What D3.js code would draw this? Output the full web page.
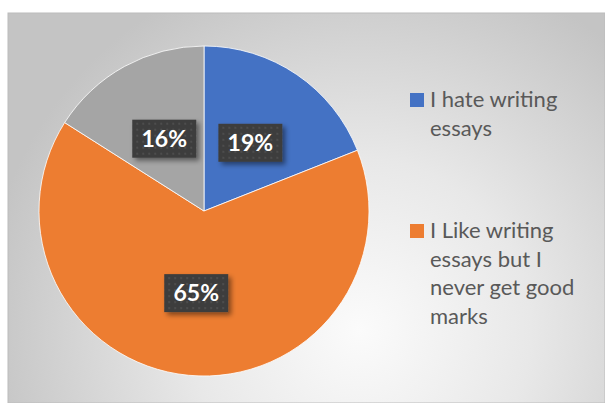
<!DOCTYPE html>
<html>
<head>
<meta charset="utf-8">
<script src="https://cdn.jsdelivr.net/npm/d3@7/dist/d3.min.js"></script>
<style>
  html, body { margin: 0; padding: 0; background: #ffffff; }
  svg { display: block; }
</style>
</head>
<body>
<svg id="chart" width="605" height="403"></svg>
<script>
// Survey answers, shares in percent
const categories = [
  "I hate writing essays",
  "I Like writing essays but I never get good marks",
  "Other"
];
const values = [19, 65, 16];
const colors = ["#4472c4", "#ed7d31", "#a5a5a5"];
// Legend shows the first two answers, wrapped as in the chart
const legendLines = [
  ["I hate writing", "essays"],
  ["I Like writing", "essays but I", "never get good", "marks"]
];

const svg = d3.select("#chart");
const W = 605, H = 403;
const frame = { x: 8, y: 13, w: W - 8, h: H - 13 };

const defs = svg.append("defs");

// soft radial backdrop of the chart area
const bg = defs.append("radialGradient")
  .attr("id", "bgGrad")
  .attr("gradientUnits", "userSpaceOnUse")
  .attr("cx", 360).attr("cy", 330).attr("r", 380);
bg.append("stop").attr("offset", "0%").attr("stop-color", "#fbfbfb");
bg.append("stop").attr("offset", "45%").attr("stop-color", "#e8e8e8");
bg.append("stop").attr("offset", "100%").attr("stop-color", "#c4c4c4");

// dotted dark fill for the value labels
const pat = defs.append("pattern")
  .attr("id", "dots")
  .attr("width", 6).attr("height", 6)
  .attr("patternUnits", "userSpaceOnUse");
pat.append("rect").attr("width", 6).attr("height", 6).attr("fill", "#3d3d3d");
pat.append("circle").attr("cx", 3).attr("cy", 3).attr("r", 1).attr("fill", "#525252");

const shadow = defs.append("filter")
  .attr("id", "shadow")
  .attr("x", "-20%").attr("y", "-20%").attr("width", "150%").attr("height", "160%");
shadow.append("feDropShadow")
  .attr("dx", 3).attr("dy", 3).attr("stdDeviation", 2.5)
  .attr("flood-color", "#000").attr("flood-opacity", 0.45);

svg.append("rect")
  .attr("x", frame.x).attr("y", frame.y)
  .attr("width", frame.w).attr("height", frame.h)
  .attr("fill", "url(#bgGrad)")
  .attr("stroke", "#bcbcbc").attr("stroke-width", 1);

// pie
const cx = 204, cy = 211, R = 165;
const pie = d3.pie().sort(null).value(d => d)(values);
const arc = d3.arc().innerRadius(0).outerRadius(R);
const labelArc = d3.arc().innerRadius(R * 0.5).outerRadius(R * 0.5);

const g = svg.append("g").attr("transform", `translate(${cx},${cy})`);

g.selectAll("path.slice")
  .data(pie)
  .join("path")
  .attr("class", "slice")
  .attr("d", arc)
  .attr("fill", (d, i) => colors[i])
  .attr("stroke", "#ffffff")
  .attr("stroke-width", 0.8);

// value labels on dark boxes
const labels = g.selectAll("g.lbl")
  .data(pie)
  .join("g")
  .attr("class", "lbl")
  .attr("transform", d => {
    const [x, y] = labelArc.centroid(d);
    return `translate(${x},${y})`;
  });

const bw = 64, bh = 38;
labels.append("rect")
  .attr("x", -bw / 2).attr("y", -bh / 2)
  .attr("width", bw).attr("height", bh)
  .attr("fill", "url(#dots)")
  .attr("filter", "url(#shadow)");

labels.append("text")
  .attr("text-anchor", "middle")
  .attr("dy", "0.36em")
  .attr("fill", "#ffffff")
  .attr("font-family", "Lato, 'Open Sans', sans-serif")
  .attr("font-weight", "bold")
  .attr("font-size", 23)
  .text(d => d.data + "%");

// legend
const legend = svg.append("g").attr("class", "legend");
const entryTop = [107, 238];
const lineH = 28.5;
legendLines.forEach((lines, i) => {
  const ent = legend.append("g");
  ent.append("rect")
    .attr("x", 410).attr("y", entryTop[i] - 14)
    .attr("width", 14).attr("height", 14)
    .attr("fill", colors[i]);
  ent.selectAll("text")
    .data(lines)
    .join("text")
    .attr("x", 430)
    .attr("y", (d, j) => entryTop[i] + j * lineH)
    .attr("fill", "#595959")
    .attr("font-family", "Lato, 'Open Sans', sans-serif")
    .attr("font-size", 22)
    .text(d => d);
});
</script>
</body>
</html>
